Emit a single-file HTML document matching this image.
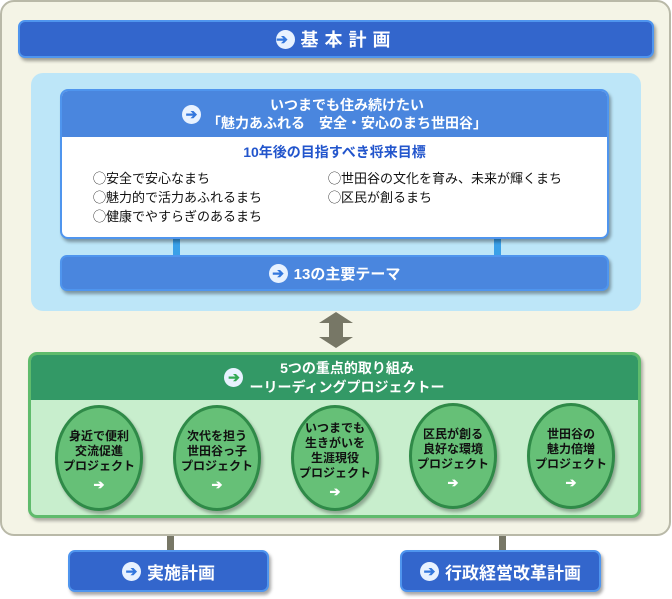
<!DOCTYPE html>
<html><head><meta charset="utf-8"><style>
body{margin:0;width:672px;height:599px;background:#fff;font-family:"Liberation Sans","Noto Sans CJK JP",sans-serif;position:relative;overflow:hidden}
.a{position:absolute;box-sizing:border-box}
.bar{background:#3366cc;border:2px solid #4f95ee;border-radius:7px;box-shadow:2px 3px 3px rgba(0,0,0,.35);color:#fff;display:flex;align-items:center;justify-content:center;font-weight:bold}
.ic{display:inline-block;width:19px;height:19px;border-radius:50%;background:#e8f2ff;color:#3377dd;font-size:14px;line-height:19px;text-align:center;font-weight:bold;margin-right:6px}
.cir{position:absolute;width:88px;height:106px;border-radius:50%;background:#66c077;border:3px solid #2f8a48;box-sizing:border-box;box-shadow:2px 3px 3px rgba(0,0,0,.3);color:#111;font-size:12px;font-weight:bold;text-align:center;line-height:15px;display:flex;flex-direction:column;justify-content:center;padding-top:4px}
.cir b{color:#fff;font-size:13px;margin-top:3px}
.li{font-family:"Noto Sans CJK JP",sans-serif}
</style></head><body>
<div class="a" style="left:0;top:0;width:671px;height:536px;background:#f4f4e6;border:2px solid #b9b9a8;border-radius:14px"></div>
<div class="a bar" style="left:18px;top:20px;width:636px;height:38px;font-size:18px;letter-spacing:6px"><span class="ic">➔</span>基本計画</div>
<div class="a" style="left:31px;top:73px;width:610px;height:238px;background:#bde6f8;border-radius:12px"></div>
<div class="a" style="left:173px;top:236px;width:7px;height:20px;background:#3aa0e8"></div>
<div class="a" style="left:494px;top:236px;width:7px;height:20px;background:#3aa0e8"></div>
<div class="a" style="left:60px;top:89px;width:549px;height:150px;background:#fff;border:2px solid #4f95ee;border-radius:8px;box-shadow:2px 3px 3px rgba(0,0,0,.35);overflow:hidden">
 <div style="background:#4a86de;height:46px;color:#fff;font-size:14px;font-weight:bold;display:flex;align-items:center;justify-content:center;line-height:18px"><span class="ic">➔</span><div style="text-align:center">いつまでも住み続けたい<br>「魅力あふれる　安全・安心のまち世田谷」</div></div>
 <div style="text-align:center;color:#2255cc;font-size:14px;font-weight:bold;margin-top:5px">10年後の目指すべき将来目標</div>
 <div class="li" style="position:absolute;left:31px;top:77px;font-size:13px;line-height:19px;color:#111">◯安全で安心なまち<br>◯魅力的で活力あふれるまち<br>◯健康でやすらぎのあるまち</div>
 <div class="li" style="position:absolute;left:266px;top:77px;font-size:13px;line-height:19px;color:#111">◯世田谷の文化を育み、未来が輝くまち<br>◯区民が創るまち</div>
</div>
<div class="a bar" style="left:60px;top:255px;width:549px;height:36px;background:#4a86de;font-size:15px"><span class="ic">➔</span>13の主要テーマ</div>
<svg class="a" style="left:318px;top:312px" width="36" height="36"><polygon points="18,0 35,11 25,11 25,25 35,25 18,36 1,25 11,25 11,11 1,11" fill="#777766"/></svg>
<div class="a" style="left:28px;top:352px;width:613px;height:166px;background:#c8eecd;border:3px solid #5fbb6c;border-radius:9px;box-shadow:2px 3px 3px rgba(0,0,0,.3);overflow:hidden">
 <div style="background:#339966;height:45px;color:#fff;font-size:14px;font-weight:bold;display:flex;align-items:center;justify-content:center;line-height:19px"><span class="ic" style="color:#33aa55">➔</span><div style="text-align:center">5つの重点的取り組み<br>ーリーディングプロジェクトー</div></div>
</div>
<div class="cir" style="left:55px;top:405px">身近で便利<br>交流促進<br>プロジェクト<b>➔</b></div>
<div class="cir" style="left:173px;top:405px">次代を担う<br>世田谷っ子<br>プロジェクト<b>➔</b></div>
<div class="cir" style="left:291px;top:405px">いつまでも<br>生きがいを<br>生涯現役<br>プロジェクト<b>➔</b></div>
<div class="cir" style="left:409px;top:403px">区民が創る<br>良好な環境<br>プロジェクト<b>➔</b></div>
<div class="cir" style="left:527px;top:403px">世田谷の<br>魅力倍増<br>プロジェクト<b>➔</b></div>
<div class="a" style="left:167px;top:536px;width:7px;height:16px;background:#777766"></div>
<div class="a" style="left:499px;top:536px;width:7px;height:16px;background:#777766"></div>
<div class="a bar" style="left:68px;top:550px;width:201px;height:42px;font-size:17px"><span class="ic">➔</span>実施計画</div>
<div class="a bar" style="left:400px;top:550px;width:201px;height:42px;font-size:17px"><span class="ic">➔</span>行政経営改革計画</div>
</body></html>
